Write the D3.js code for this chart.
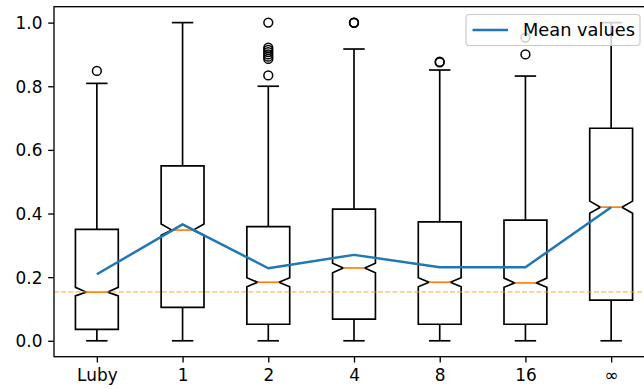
<!DOCTYPE html>
<html>
<head>
<meta charset="utf-8">
<script src="https://cdn.jsdelivr.net/npm/d3@7"></script>
<style>
  html, body { margin: 0; padding: 0; background: #fff; }
  svg { display: block; }
  text { font-family: "DejaVu Sans", sans-serif; }
</style>
</head>
<body>
<svg id="chart" width="644" height="389"></svg>
<script>
// Restart-interval categories
const categories = ["Luby", "1", "2", "4", "8", "16", "\u221e"];

// Box statistics per category
const q1Values      = [0.036, 0.105, 0.052, 0.068, 0.052, 0.052, 0.128];
const medianValues  = [0.153, 0.348, 0.184, 0.229, 0.184, 0.182, 0.420];
const q3Values      = [0.350, 0.550, 0.359, 0.414, 0.374, 0.379, 0.668];
const notchLow      = [0.141, 0.332, 0.170, 0.214, 0.170, 0.168, 0.401];
const notchHigh     = [0.168, 0.367, 0.198, 0.244, 0.198, 0.197, 0.439];
const whiskerLow    = [0.000, 0.000, 0.000, 0.000, 0.000, 0.000, 0.000];
const whiskerHigh   = [0.809, 1.000, 0.800, 0.917, 0.851, 0.832, 1.000];

// Outliers per category
const outliers = [
  [0.848],
  [],
  [1.0, 0.921, 0.914, 0.907, 0.900, 0.893, 0.886, 0.834],
  [1.0, 0.999, 1.0],
  [0.875, 0.877],
  [0.953, 0.900],
  []
];

// Mean of each category
const meanValues = [0.209, 0.366, 0.228, 0.270, 0.231, 0.231, 0.420];

// Reference level (Luby median)
const referenceLevel = 0.154;

const yTicks = [0.0, 0.2, 0.4, 0.6, 0.8, 1.0];

const svg = d3.select("#chart");
const plot = { left: 54, right: 654, top: 6.7, bottom: 356.7 };

const x = d3.scaleLinear().domain([0.5, categories.length + 0.5]).range([plot.left, plot.right]);
const y = d3.scaleLinear().domain([-0.05, 1.05]).range([plot.bottom, plot.top]);

const boxW = 0.5;          // in category units
const fontSize = 16.9;

const g = svg.append("g");

// Boxes
categories.forEach((c, i) => {
  const p = i + 1;
  const bl = x(p - boxW / 2), br = x(p + boxW / 2);
  const nl = x(p - boxW / 4), nr = x(p + boxW / 4);
  const cl = x(p - boxW / 4), cr = x(p + boxW / 4);
  const pts = [
    [bl, y(q1Values[i])], [br, y(q1Values[i])], [br, y(notchLow[i])],
    [nr, y(medianValues[i])], [br, y(notchHigh[i])], [br, y(q3Values[i])],
    [bl, y(q3Values[i])], [bl, y(notchHigh[i])], [nl, y(medianValues[i])],
    [bl, y(notchLow[i])], [bl, y(q1Values[i])]
  ];
  const grp = g.append("g");
  // whiskers
  grp.append("line").attr("x1", x(p)).attr("x2", x(p))
    .attr("y1", y(q1Values[i])).attr("y2", y(whiskerLow[i]))
    .attr("stroke", "#000").attr("stroke-width", 1.67);
  grp.append("line").attr("x1", x(p)).attr("x2", x(p))
    .attr("y1", y(q3Values[i])).attr("y2", y(whiskerHigh[i]))
    .attr("stroke", "#000").attr("stroke-width", 1.67);
  // caps
  [whiskerLow[i], whiskerHigh[i]].forEach(v => {
    grp.append("line").attr("x1", cl).attr("x2", cr)
      .attr("y1", y(v)).attr("y2", y(v))
      .attr("stroke", "#000").attr("stroke-width", 1.67);
  });
  // notched box
  grp.append("path").attr("d", d3.line()(pts) + "Z")
    .attr("fill", "none").attr("stroke", "#000").attr("stroke-width", 1.67)
    .attr("stroke-linejoin", "miter");
  // median
  grp.append("line").attr("x1", nl).attr("x2", nr)
    .attr("y1", y(medianValues[i])).attr("y2", y(medianValues[i]))
    .attr("stroke", "#ff7f0e").attr("stroke-width", 1.67);
  // outliers
  outliers[i].forEach(v => {
    grp.append("circle").attr("cx", x(p)).attr("cy", y(v)).attr("r", 4.4)
      .attr("fill", "none").attr("stroke", "#000").attr("stroke-width", 1.5);
  });
});

// Mean values line
g.append("path")
  .datum(meanValues)
  .attr("d", d3.line().x((d, i) => x(i + 1)).y(d => y(d)))
  .attr("fill", "none").attr("stroke", "#1f77b4").attr("stroke-width", 2.5)
  .attr("stroke-linejoin", "round");

// Reference dashed line
g.append("line")
  .attr("x1", plot.left).attr("x2", plot.right)
  .attr("y1", y(referenceLevel)).attr("y2", y(referenceLevel))
  .attr("stroke", "#ffa500").attr("stroke-opacity", 0.75)
  .attr("stroke-width", 1.2).attr("stroke-dasharray", "5,2.2");

// Axes frame
const frame = svg.append("g");
frame.append("rect")
  .attr("x", plot.left).attr("y", plot.top)
  .attr("width", plot.right - plot.left).attr("height", plot.bottom - plot.top)
  .attr("fill", "none").attr("stroke", "#000").attr("stroke-width", 1.33);

// Y axis
const yAxis = d3.axisLeft(y).tickValues(yTicks).tickFormat(d3.format(".1f"))
  .tickSize(5.8).tickPadding(5.8);
const ya = svg.append("g").attr("transform", `translate(${plot.left},0)`).call(yAxis);
ya.select(".domain").remove();
ya.selectAll(".tick line").attr("stroke", "#000").attr("stroke-width", 1.33);
ya.selectAll(".tick text").attr("font-size", fontSize).attr("fill", "#000")
  .attr("font-family", "DejaVu Sans").attr("dy", "0.36em");

// X axis
const xAxis = d3.axisBottom(x).tickValues(d3.range(1, categories.length + 1))
  .tickFormat(d => categories[d - 1]).tickSize(5.8).tickPadding(5.8);
const xa = svg.append("g").attr("transform", `translate(0,${plot.bottom})`).call(xAxis);
xa.select(".domain").remove();
xa.selectAll(".tick line").attr("stroke", "#000").attr("stroke-width", 1.33);
xa.selectAll(".tick text").attr("font-size", fontSize).attr("fill", "#000")
  .attr("font-family", "DejaVu Sans").attr("dy", "0.76em");

// Legend
const lg = svg.append("g");
lg.append("rect").attr("x", 466).attr("y", 14.5).attr("width", 174).attr("height", 31)
  .attr("rx", 3.3).attr("fill", "#fff").attr("fill-opacity", 0.8)
  .attr("stroke", "#cccccc").attr("stroke-width", 1.2);
lg.append("line").attr("x1", 472.5).attr("x2", 508).attr("y1", 30).attr("y2", 30)
  .attr("stroke", "#1f77b4").attr("stroke-width", 2.5);
lg.append("text").attr("x", 523).attr("y", 36).attr("font-size", 17.8)
  .attr("fill", "#000").text("Mean values");
</script>
</body>
</html>
